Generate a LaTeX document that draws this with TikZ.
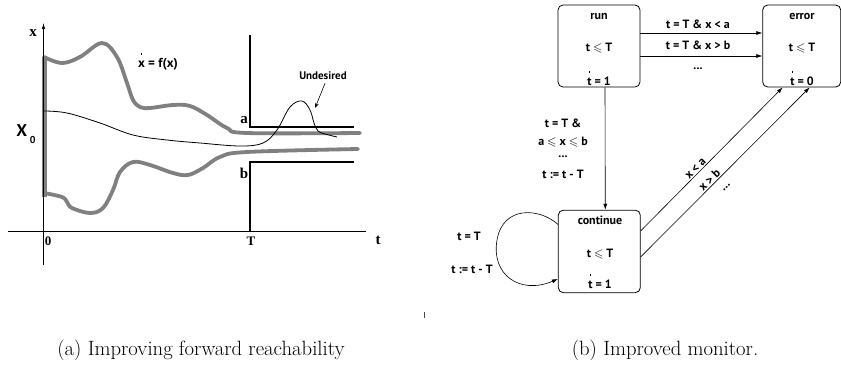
\documentclass[tikz,border=0pt]{standalone}
\usepackage{amsmath,amssymb}
\usepackage{fontspec}
\newfontfamily\labf{PT Sans}
\newfontfamily\serf{Liberation Serif}
\usetikzlibrary{arrows.meta}
\definecolor{curvegray}{RGB}{128,128,128}
\newcommand\dotover[2]{\ooalign{#1\cr\hidewidth\raisebox{#2}{\rule{1.8pt}{1.8pt}}\hidewidth\cr}}
\begin{document}
\begin{tikzpicture}[x=1pt,y=-1pt,
  box/.style={draw, rounded corners=5pt, minimum height=82pt, line width=0.8pt, inner sep=0pt},
  lbl/.style={font=\labf\bfseries\fontsize{12}{14}\selectfont, inner sep=0pt, anchor=base, align=center},
  serlbl/.style={font=\serf\bfseries\fontsize{15}{17}\selectfont, inner sep=0pt},
  arr/.style={-{Latex[length=6pt,width=4pt]}, line width=0.6pt},
  graycurve/.style={line width=3.8pt, color=curvegray, line cap=round},
  bound/.style={line width=1.8pt},
  captext/.style={font=\fontsize{20.7}{24}\selectfont, inner sep=0pt}
]
\useasboundingbox (0,0) rectangle (841,369);

% ---------- left diagram ----------
\draw[graycurve] plot[smooth, tension=0.6] coordinates {(44,57) (62,63) (80,57) (102,43) (117,57) (127,83) (133,100) (140,107) (150,108) (173,105) (190,106) (207,115) (227,128) (247,133) (360,133)};
\draw[graycurve] plot[smooth, tension=0.6] coordinates {(44,193) (62,197) (67,202) (72,208) (90,213) (103,208) (113,190) (120,172) (133,162) (150,165) (173,173) (188,175) (203,168) (220,157) (247,152) (358,149)};
\draw[line width=5pt, curvegray] (44,57) -- (44,197);
\draw[line width=0.8pt] plot[smooth, tension=0.6] coordinates {(44,111) (67,113) (100,123) (133,135) (167,140) (200,143) (240,146) (263,143) (277,130) (290,107) (302,101) (310,110) (314,123) (318,131) (325,134) (337,137)};
% axes
\coordinate (ybot) at (43.5,265);
\coordinate (ytop) at (43.5,23);
\coordinate (xl) at (8,231);
\coordinate (xr) at (366,231);
\draw[line width=0.7pt, -{Latex[length=6pt,width=3.5pt]}] (ybot) -- (ytop);
\draw[line width=0.7pt] (xl) -- (xr);
% bounds
\coordinate (ua) at (250,35);
\coordinate (ub) at (250,127);
\coordinate (uc) at (354,127);
\coordinate (la) at (250,231);
\coordinate (lb) at (250,162);
\coordinate (lc) at (354,162);
\draw[bound] (ua) -- (ub) -- (uc);
\draw[bound] (la) -- (lb) -- (lc);
% labels
\node[serlbl] (xlab) at (33,33) {x};
\node[serlbl, font=\serf\bfseries\fontsize{13}{15}\selectfont] (zerolab) at (48,241) {0};
\node[serlbl, font=\serf\bfseries\fontsize{13}{15}\selectfont] (Tlab) at (251,241) {T};
\node[serlbl] (tlab) at (378,240) {t};
\node[serlbl] (alab) at (244,120) {a};
\node[serlbl] (blab) at (244,173) {b};
\node[inner sep=0pt, font=\labf\bfseries\fontsize{17}{19}\selectfont] (x0lab) at (26,134) {X\,\raisebox{-7pt}{\fontsize{10}{10}\selectfont 0}};
\node[lbl, font=\labf\bfseries\fontsize{13}{15}\selectfont] (odelab) at (158,67) {\dotover{x}{12.5pt} = f(x)};
\node[lbl, font=\labf\bfseries\fontsize{11}{13}\selectfont] (undlab) at (323,80) {Undesired};
\coordinate (undtip) at (315,108);
\draw[line width=0.6pt, -{Stealth[length=5pt,width=4pt]}] ([xshift=2pt,yshift=-3pt]undlab.south) -- (undtip);

% ---------- right diagram ----------
\node[box, minimum width=82pt] (run) at (599,46) {};
\node[box, minimum width=78pt] (error) at (801.7,46) {};
\node[box, minimum width=82pt, minimum height=82.5pt] (cont) at (599.3,251.4) {};

\node[lbl] (runname) at (599,20) {run};
\node[lbl] (runinv) at (599,52) {t $\leqslant$ T};
\node[lbl] (runflow) at (599,85) {\dotover{t}{12.5pt} = 1};
\node[lbl] (errname) at (802,20) {error};
\node[lbl] (errinv) at (802,52) {t $\leqslant$ T};
\node[lbl] (errflow) at (802,85) {\dotover{t}{12.5pt} = 0};
\node[lbl] (contname) at (600,224) {continue};
\node[lbl] (continv) at (600,257) {t $\leqslant$ T};
\node[lbl] (contflow) at (600,288) {\dotover{t}{12.5pt} = 1};

% run -> error
\draw[arr] ([yshift=13pt]run.east) -- ([yshift=13pt]error.west);
\draw[arr] ([yshift=-10pt]run.east) -- ([yshift=-10pt]error.west);
\node[lbl] (re1) at (698,29) {t = T \& x < a};
\node[lbl] (re2) at (698,50) {t = T \& x > b};
\node[lbl] (re3) at (698,70) {...};

% run -> continue
\draw[arr] ([xshift=6pt]run.south) -- ([xshift=6pt]cont.north);
\node[lbl] (rc1) at (563,128) {t = T \&};
\node[lbl] (rc2) at (563,145) {a $\leqslant$ x $\leqslant$ b};
\node[lbl] (rc3) at (563,157) {...};
\node[lbl] (rc4) at (563,178) {t := t - T};

% continue -> error
\draw[arr] ([yshift=20.5pt]cont.east) -- node[pos=0.41, sloped, lbl, anchor=south, yshift=1pt] (ce1) {x < a} ([xshift=-19pt]error.south);
\draw[arr] ([yshift=-5.5pt]cont.east) -- node[pos=0.43, sloped, lbl, anchor=south, yshift=1pt] (ce2) {x > b} coordinate[pos=0.46] (m2) ([xshift=8pt]error.south);
\node[lbl, anchor=center, rotate=45] (ce3) at ([xshift=8.3pt, yshift=-8.3pt]m2) {…};

% self loop
\coordinate (lpa) at ([yshift=27pt]cont.west);
\coordinate (lpb) at ([yshift=-27.6pt]cont.west);
\draw[arr] (lpa) .. controls (540,208) and (503,205) .. (497,240) .. controls (491,275) and (520,295) .. (lpb);
\node[lbl] (sl1) at (469,240) {t = T};
\node[lbl] (sl2) at (472,273) {t := t - T};

% tick
\coordinate (tk1) at (424,312);
\coordinate (tk2) at (424,318);
\draw[line width=0.8pt, black!70] (tk1) -- (tk2);

% captions
\node[captext] (capa) at (201,350) {(a) Improving forward reachability};
\node[captext] (capb) at (665,350) {(b) Improved monitor.};
\end{tikzpicture}
\end{document}
